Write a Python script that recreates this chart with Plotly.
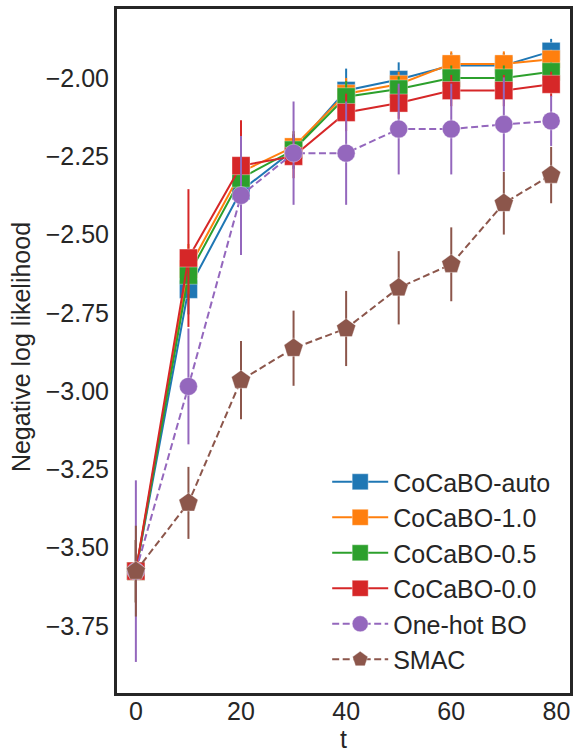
import plotly.graph_objects as go

t = [0, 10, 20, 30, 40, 50, 60, 70, 79]

names = ["CoCaBO-auto", "CoCaBO-1.0", "CoCaBO-0.5", "CoCaBO-0.0", "One-hot BO", "SMAC"]

cocabo_auto = [-3.575, -2.675, -2.36, -2.23, -2.04, -2.005, -1.96, -1.96, -1.915]
cocabo_10 = [-3.575, -2.61, -2.30, -2.22, -2.05, -2.02, -1.955, -1.955, -1.94]
cocabo_05 = [-3.575, -2.63, -2.32, -2.23, -2.06, -2.035, -2.00, -2.00, -1.98]
cocabo_00 = [-3.575, -2.575, -2.28, -2.25, -2.11, -2.08, -2.04, -2.04, -2.02]
onehot_bo = [-3.575, -2.985, -2.375, -2.24, -2.24, -2.163, -2.163, -2.148, -2.137]
smac = [-3.575, -3.357, -2.965, -2.863, -2.80, -2.67, -2.595, -2.40, -2.31]

err_auto = [0.10, 0.08, 0.08, 0.06, 0.07, 0.055, 0.04, 0.04, 0.04]
err_10 = [0.10, 0.08, 0.07, 0.05, 0.05, 0.04, 0.04, 0.04, 0.03]
err_05 = [0.10, 0.08, 0.07, 0.05, 0.05, 0.04, 0.04, 0.04, 0.03]
err_00 = [0.10, 0.22, 0.145, 0.07, 0.06, 0.05, 0.05, 0.05, 0.04]
err_onehot = [0.29, 0.185, 0.19, 0.165, 0.165, 0.145, 0.145, 0.15, 0.08]
err_smac = [0.145, 0.115, 0.125, 0.12, 0.12, 0.117, 0.118, 0.10, 0.09]

ytick_vals = [-2.00, -2.25, -2.50, -2.75, -3.00, -3.25, -3.50, -3.75]
ytick_text = ["\u22122.00", "\u22122.25", "\u22122.50", "\u22122.75", "\u22123.00", "\u22123.25", "\u22123.50", "\u22123.75"]
xtick_vals = [0, 20, 40, 60, 80]

series = [cocabo_auto, cocabo_10, cocabo_05, cocabo_00, onehot_bo, smac]
errors = [err_auto, err_10, err_05, err_00, err_onehot, err_smac]
colors = ["#1f77b4", "#ff7f0e", "#2ca02c", "#d62728", "#9467bd", "#8c564b"]
symbols = ["square", "square", "square", "square", "circle", "pentagon"]
dashes = ["solid", "solid", "solid", "solid", "7px,3.5px", "7px,3.5px"]
sizes = [18, 18, 18, 18, 18, 20]

FONT = "Liberation Sans, Arial, sans-serif"
TXT = "#262626"
FS = 25

fig = go.Figure()
for name, y, e, c, s, d, sz in zip(names, series, errors, colors, symbols, dashes, sizes):
    fig.add_trace(go.Scatter(
        x=t, y=y, name=name, mode="lines+markers",
        line=dict(color=c, width=2, dash=d),
        marker=dict(symbol=s, size=sz, color=c,
                    line=dict(width=0.8, color="rgba(255,255,255,0.45)")),
        error_y=dict(type="data", array=e, visible=True, color=c, thickness=2, width=0),
    ))

fig.update_layout(
    width=575, height=751,
    margin=dict(l=117, r=2, t=9, b=58),
    paper_bgcolor="white", plot_bgcolor="white",
    font=dict(family=FONT, size=FS, color=TXT),
    showlegend=True,
    legend=dict(
        x=0.464, y=0.342, xanchor="left", yanchor="top",
        bgcolor="rgba(0,0,0,0)", borderwidth=0,
        font=dict(family=FONT, size=FS, color=TXT),
        itemwidth=56,
    ),
    xaxis=dict(
        range=[-3.59, 82.59], tickvals=xtick_vals, showgrid=False, zeroline=False,
        showline=True, linewidth=3, linecolor="#262626", mirror=True,
        ticks="", tickfont=dict(family=FONT, size=FS, color=TXT),
        ticklabelstandoff=-6,
    ),
    yaxis=dict(
        range=[-3.9642, -1.7796], tickvals=ytick_vals, ticktext=ytick_text,
        showgrid=False, zeroline=False,
        showline=True, linewidth=3, linecolor="#262626", mirror=True,
        ticks="", tickfont=dict(family=FONT, size=FS, color=TXT),
    ),
    annotations=[
        dict(text="Negative log likelihood", xref="paper", yref="paper",
             x=-0.213, y=0.505, xanchor="center", yanchor="middle", textangle=-90,
             showarrow=False, font=dict(family=FONT, size=FS, color=TXT)),
        dict(text="t", xref="paper", yref="paper",
             x=0.5, y=-0.067, xanchor="center", yanchor="middle",
             showarrow=False, font=dict(family=FONT, size=FS, color=TXT)),
    ],
)

fig.write_html("out.html", config={"displayModeBar": False},
               post_script="document.body.style.margin='0';document.body.style.padding='0';")
